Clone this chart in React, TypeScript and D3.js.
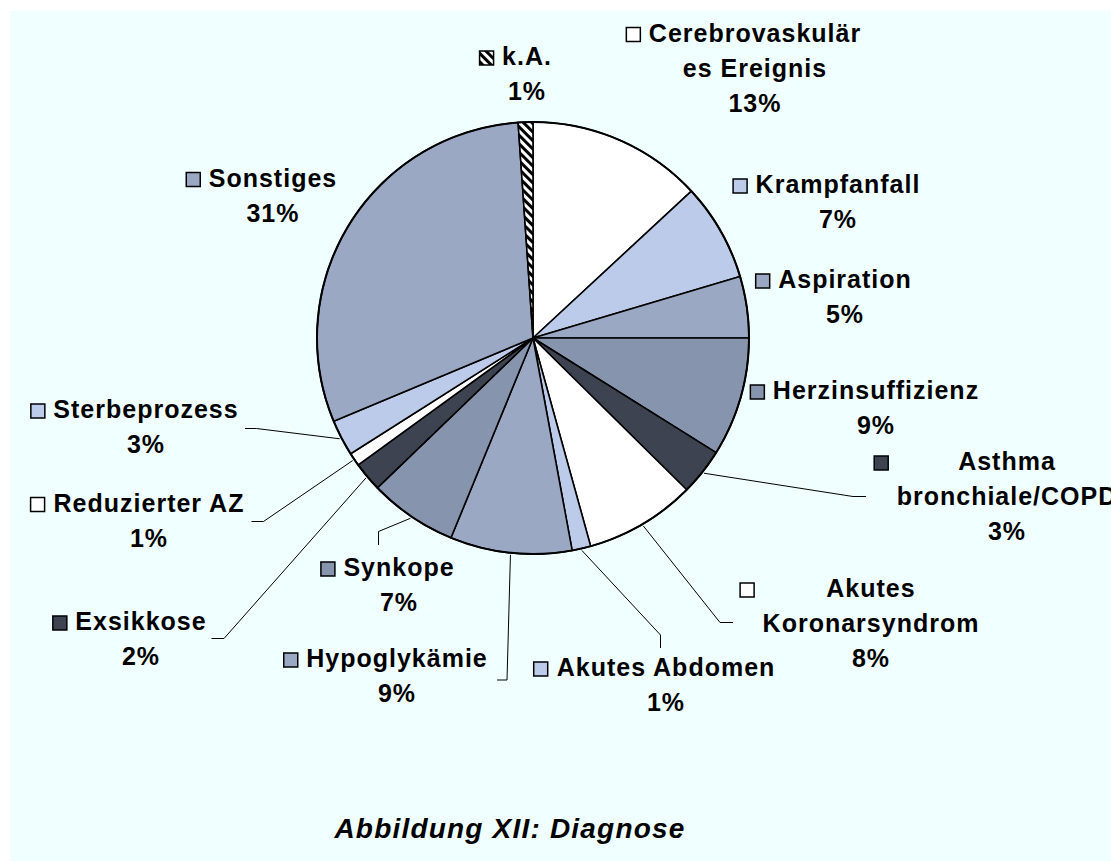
import React from "react";
import * as d3 from "d3";

const categories = [
  "Cerebrovaskuläres Ereignis",
  "Krampfanfall",
  "Aspiration",
  "Herzinsuffizienz",
  "Asthma bronchiale/COPD",
  "Akutes Koronarsyndrom",
  "Akutes Abdomen",
  "Hypoglykämie",
  "Synkope",
  "Exsikkose",
  "Reduzierter AZ",
  "Sterbeprozess",
  "Sonstiges",
  "k.A.",
];
const values = [13.1, 7.3, 4.6, 8.9, 3.5, 8.3, 1.4, 9.1, 6.6, 2.2, 1.0, 2.7, 30.2, 1.1];
const percentLabels = ["13%", "7%", "5%", "9%", "3%", "8%", "1%", "9%", "7%", "2%", "1%", "3%", "31%", "1%"];
const labelLines = [
  ["Cerebrovaskulär", "es Ereignis"],
  ["Krampfanfall"],
  ["Aspiration"],
  ["Herzinsuffizienz"],
  ["Asthma", "bronchiale/COPD"],
  ["Akutes", "Koronarsyndrom"],
  ["Akutes Abdomen"],
  ["Hypoglykämie"],
  ["Synkope"],
  ["Exsikkose"],
  ["Reduzierter AZ"],
  ["Sterbeprozess"],
  ["Sonstiges"],
  ["k.A."],
];
const title = "Abbildung XII: Diagnose";

// styles
const WHITE = "#FFFFFF";
const LIGHT = "#BDCBEA";
const MID = "#9AA8C3";
const SLATE = "#8794AD";
const DARK = "#3D4350";
const HATCH = "url(#hatch)";
const sliceColors = [WHITE, LIGHT, MID, SLATE, DARK, WHITE, LIGHT, MID, SLATE, DARK, WHITE, LIGHT, MID, HATCH];

// label layout (center x, first baseline, leader elbow & end)
type Pt = [number, number];
const labelLayout: { cx: number; y: number; leader?: [Pt, Pt] }[] = [
  { cx: 755, y: 41.5 },
  { cx: 838, y: 193 },
  { cx: 845, y: 288 },
  { cx: 876, y: 399 },
  { cx: 1007, y: 470, leader: [[853, 496.5], [866, 496.5]] },
  { cx: 871, y: 597, leader: [[720, 622.5], [733, 622.5]] },
  { cx: 666, y: 676, leader: [[660.5, 635], [660.5, 648]] },
  { cx: 397, y: 667, leader: [[507, 680], [497, 680]] },
  { cx: 399, y: 576, leader: [[378.5, 531.5], [378.5, 545]] },
  { cx: 141, y: 630, leader: [[224, 638.5], [211.5, 638.5]] },
  { cx: 149, y: 511.5, leader: [[263.5, 521.5], [251.5, 521.5]] },
  { cx: 146, y: 418, leader: [[256.5, 428.5], [245, 428.5]] },
  { cx: 273, y: 186.5 },
  { cx: 527, y: 65 },
];

const W = 1111;
const H = 861;
const CX = 533;
const CY = 338;
const R = 216;
const FONT = "'Liberation Sans', Arial, Helvetica, sans-serif";
const FS = 25;
const LS = 1.0;
const LH = 35;
const KEY = 14;

let measureCtx: CanvasRenderingContext2D | null = null;
function textWidth(s: string): number {
  if (!measureCtx) {
    const c = document.createElement("canvas");
    measureCtx = c.getContext("2d");
  }
  if (!measureCtx) return s.length * FS * 0.6;
  measureCtx.font = `bold ${FS}px ${FONT}`;
  return measureCtx.measureText(s).width + LS * (s.length - 1);
}

export default function App() {
  const pie = d3
    .pie<number>()
    .sort(null)
    .value((d) => d)
    .startAngle(0)
    .endAngle(2 * Math.PI);
  const arcs = pie(values);
  const arc = d3.arc<d3.PieArcDatum<number>>().innerRadius(0).outerRadius(R);

  return (
    <svg
      width={W}
      height={H}
      style={{ position: "absolute", left: 0, top: 0, background: "#FFFFFF" }}
      fontFamily={FONT}
    >
      <defs>
        <pattern id="hatch" patternUnits="userSpaceOnUse" width={6} height={6} patternTransform="rotate(-45)">
          <rect width={6} height={6} fill="#FFFFFF" />
          <rect width={3} height={6} fill="#000000" />
        </pattern>
      </defs>
      <rect x={10} y={11} width={W - 10} height={H - 11} fill="#F0FFFF" />

      <g transform={`translate(${CX},${CY})`}>
        {arcs.map((a, i) => (
          <path key={i} d={arc(a) || ""} fill={sliceColors[i]} stroke="#000" strokeWidth={1.6} strokeLinejoin="round" />
        ))}
        <circle r={R} fill="none" stroke="#000" strokeWidth={2} />
      </g>

      {arcs.map((a, i) => {
        const lay = labelLayout[i];
        if (!lay.leader) return null;
        const mid = (a.startAngle + a.endAngle) / 2;
        const sx = CX + (R + 2) * Math.sin(mid);
        const sy = CY - (R + 2) * Math.cos(mid);
        const [e, t] = lay.leader;
        return (
          <polyline
            key={"l" + i}
            points={`${sx},${sy} ${e[0]},${e[1]} ${t[0]},${t[1]}`}
            fill="none"
            stroke="#000"
            strokeWidth={1}
          />
        );
      })}

      {categories.map((c, i) => {
        const lay = labelLayout[i];
        const lines = [...labelLines[i], percentLabels[i]];
        const maxW = Math.max(...lines.map(textWidth));
        const keyX = lay.cx - maxW / 2 - 9 - KEY;
        return (
          <g key={"t" + i}>
            <rect
              x={keyX}
              y={lay.y - KEY}
              width={KEY}
              height={KEY}
              fill={sliceColors[i]}
              stroke="#000"
              strokeWidth={1.5}
            />
            {lines.map((ln, j) => (
              <text
                key={j}
                x={lay.cx}
                y={lay.y + j * LH}
                textAnchor="middle"
                fontSize={FS}
                fontWeight="bold"
                letterSpacing={LS}
                fill="#000"
              >
                {ln}
              </text>
            ))}
          </g>
        );
      })}

      <text
        x={510}
        y={838}
        textAnchor="middle"
        fontSize={28}
        fontWeight="bold"
        fontStyle="italic"
        letterSpacing={1.2}
        fill="#000"
      >
        {title}
      </text>
    </svg>
  );
}
